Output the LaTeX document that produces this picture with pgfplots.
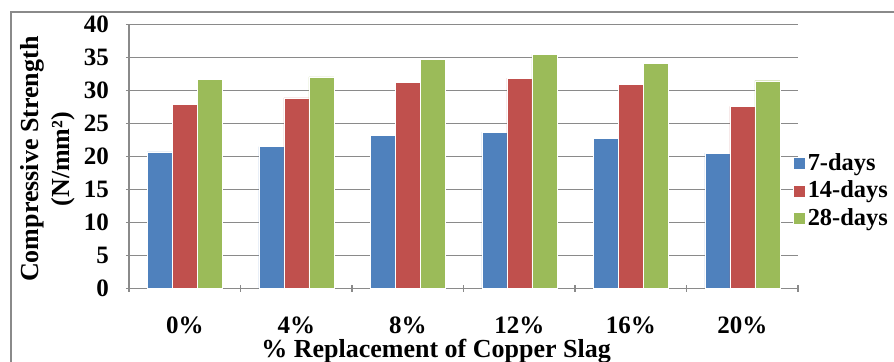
\documentclass[border=0pt]{standalone}
\usepackage{pgfplots}
\pgfplotsset{compat=1.18}
\usepackage{fontspec}
\setmainfont{Liberation Serif}
\definecolor{cblue}{HTML}{4F81BD}
\definecolor{cred}{HTML}{C0504D}
\definecolor{cgreen}{HTML}{9BBB59}
\definecolor{gridc}{HTML}{8A8A8A}
\pgfplotsset{
  /pgfplots/ybar legend/.style={
    /pgfplots/legend image code/.code={\fill[##1] (0pt,-3pt) rectangle (6pt,3pt);}}
}
\begin{document}
\begin{tikzpicture}
\useasboundingbox (0,0) rectangle (447pt,181pt);
\draw[gridc,line width=0.8pt] (5.5pt,-2pt) -- (5.5pt,175pt) -- (449pt,175pt);
\begin{axis}[
  at={(64.5pt,36.85pt)}, anchor=south west,
  scale only axis, width=334.5pt, height=131.8pt,
  ybar=0pt, bar width=12.5pt,
  xmin=-0.5, xmax=5.5, ymin=0, ymax=40,
  ytick={0,5,...,40},
  xtick={0,...,5},
  xticklabels={0\%,4\%,8\%,12\%,16\%,20\%},
  minor xtick={-0.5,0.5,...,5.5},
  major x tick style={draw=none},
  minor x tick style={gridc, line width=0.6pt},
  minor tick length=3.5pt,
  major tick length=3pt,
  tick align=outside,
  y tick style={gridc, line width=0.6pt},
  axis x line=bottom, axis y line=left,
  axis line style={gridc, line width=0.6pt, -},
  ymajorgrids, grid style={gridc, line width=0.6pt},
  /pgf/number format/assume math mode=true,
  tick label style={font=\fontsize{12.5}{14}\selectfont\bfseries},
  xticklabel style={anchor=base, yshift=-21pt},
  yticklabel style={anchor=east, xshift=-5pt},
  xlabel={\% Replacement of Copper Slag},
  xlabel style={at={(axis description cs:0.459,0)}, anchor=base, yshift=-34.5pt,
    font=\fontsize{13}{15}\selectfont\bfseries},
  ylabel={Compressive Strength\\(N/mm²)},
  ylabel style={at={(axis description cs:0,0.49)}, anchor=center, yshift=40.75pt,
    align=center, font=\fontsize{13}{15.5}\selectfont\bfseries},
  legend style={at={(axis description cs:0.994,0.37)}, anchor=west, xshift=-3.5pt,
    draw=none, fill=none,
    font=\fontsize{12.2}{14}\selectfont\bfseries, row sep=1.8pt,
    nodes={inner sep=1pt}, /tikz/every even column/.append style={column sep=0pt}},
  legend cell align=left,
  clip=false,
]
\addplot[fill=cblue, draw=white, line width=0.2pt] coordinates {(0,20.7) (1,21.5) (2,23.2) (3,23.7) (4,22.8) (5,20.5)};
\addplot[fill=cred, draw=white, line width=0.2pt] coordinates {(0,27.9) (1,28.9) (2,31.3) (3,31.9) (4,31.0) (5,27.6)};
\addplot[fill=cgreen, draw=white, line width=0.2pt] coordinates {(0,31.7) (1,32.1) (2,34.7) (3,35.5) (4,34.1) (5,31.5)};
\legend{7-days,14-days,28-days}
\end{axis}
\end{tikzpicture}
\end{document}
